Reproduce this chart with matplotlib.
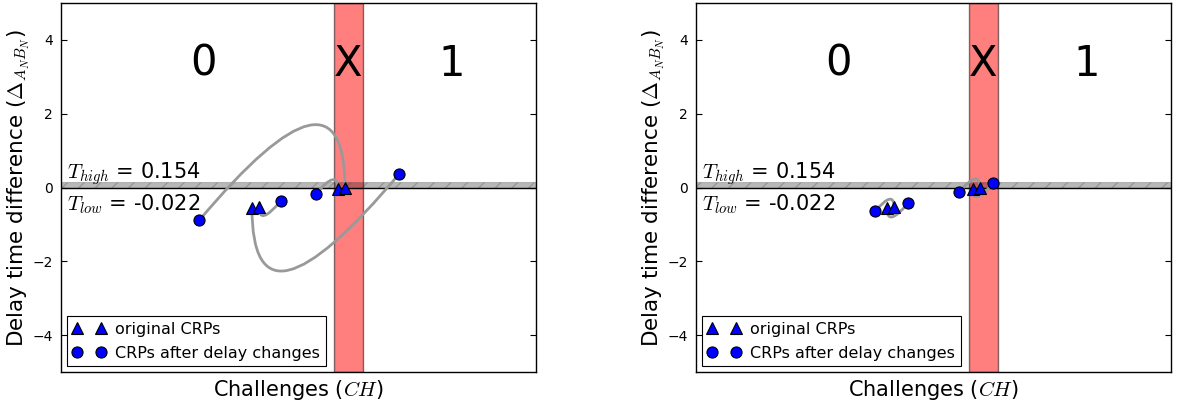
import matplotlib
matplotlib.use("Agg")
import matplotlib.pyplot as plt

plt.rcParams["font.family"] = ["DejaVu Sans"]
plt.rcParams["mathtext.fontset"] = "cm"

# Decision thresholds of the delay difference
T_HIGH = 0.154
T_LOW = -0.022

# Challenge axis range and the undecided ("X") region on it
x_range = (0, 100)
x_region = (57.5, 63.6)

# Original CRPs (shared by both panels)
orig_x = [40.2, 41.7, 58.3, 59.8]
orig_y = [-0.56, -0.54, -0.05, -0.02]

# CRPs after the delay changes, listed in the order of the original CRPs
left_new_x = [71.2, 46.3, 53.7, 29.1]
left_new_y = [0.37, -0.36, -0.17, -0.89]

right_new_x = [44.6, 37.7, 62.5, 55.4]
right_new_y = [-0.43, -0.65, 0.11, -0.13]

region_labels = ["0", "X", "1"]
region_label_x = [30.1, 60.5, 82.3]
region_label_y = 3.35

y_ticks = [-4, -2, 0, 2, 4]

W, H = 1185, 404
fig = plt.figure(figsize=(W / 100, H / 100), dpi=100)
fig.patch.set_facecolor("white")

ax_w = 475 / W
ax_h = 369 / H
ax_b = 32 / H
axes = [fig.add_axes([61 / W, ax_b, ax_w, ax_h]),
        fig.add_axes([696 / W, ax_b, ax_w, ax_h])]

panels = [(left_new_x, left_new_y), (right_new_x, right_new_y)]

for ax, (nx, ny) in zip(axes, panels):
    ax.set_xlim(*x_range)
    ax.set_ylim(-5, 5)

    # undecided region
    ax.axvspan(x_region[0], x_region[1], facecolor="red", edgecolor="black",
               alpha=0.5, lw=1, zorder=1)
    # threshold band
    ax.axhspan(T_LOW, T_HIGH, facecolor="black", edgecolor="#444444",
               alpha=0.28, hatch="//", lw=0.8, zorder=1.5)
    ax.axhline(T_LOW, color="black", lw=1, zorder=1.6)

    for lab, lx in zip(region_labels, region_label_x):
        ax.text(lx, region_label_y, lab, fontsize=30, ha="center",
                va="center", zorder=2)

    ax.text(1.3, 0.25, r"$T_{high}$ = %.3f" % T_HIGH, fontsize=15,
            ha="left", va="baseline", zorder=2)
    ax.text(1.3, -0.62, r"$T_{low}$ = %.3f" % T_LOW, fontsize=15,
            ha="left", va="baseline", zorder=2)

    # connections from each changed CRP to its original
    for ox, oy, cx, cy in zip(orig_x, orig_y, nx, ny):
        ax.annotate("", xy=(ox, oy), xytext=(cx, cy),
                    arrowprops=dict(arrowstyle="-", color="#999999", lw=2.0,
                                    shrinkA=0, shrinkB=0,
                                    connectionstyle="angle3,angleA=50,angleB=90"),
                    zorder=2.5)

    ax.plot(orig_x, orig_y, ls="none", marker="^", ms=8, mfc="blue",
            mec="black", mew=0.8, label="original CRPs", zorder=3)
    ax.plot(nx, ny, ls="none", marker="o", ms=8, mfc="blue",
            mec="black", mew=0.8, label="CRPs after delay changes", zorder=3)

    ax.set_xticks([])
    ax.set_yticks(y_ticks)
    ax.tick_params(axis="y", direction="in", length=4, width=0.8,
                   right=True, left=True, labelsize=10, pad=6)
    for sp in ax.spines.values():
        sp.set_linewidth(1)
        sp.set_color("black")

    ax.set_xlabel(r"Challenges ($CH$)", fontsize=15, labelpad=4)
    ax.set_ylabel(r"Delay time difference ($\Delta_{A_N B_N}$)", fontsize=15.5,
                  labelpad=0)

    leg = ax.legend(loc="lower left", numpoints=2, fontsize=11.5,
                    fancybox=False, framealpha=1, edgecolor="black",
                    borderaxespad=0.35, handletextpad=0.6, borderpad=0.35,
                    labelspacing=0.55, handlelength=2.1)
    leg.get_frame().set_linewidth(0.8)

fig.savefig("out.png", dpi=100, facecolor="white")
